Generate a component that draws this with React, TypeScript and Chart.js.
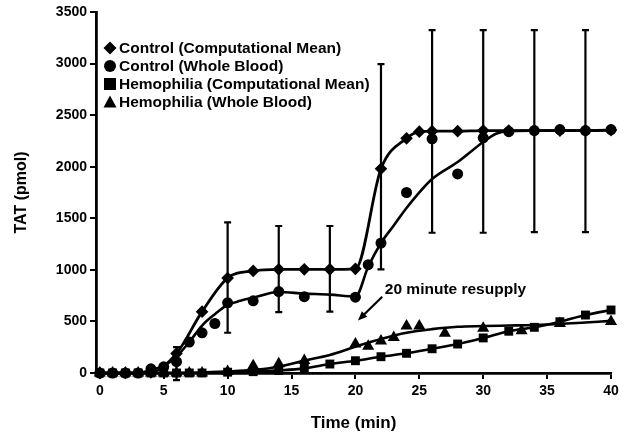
import React, { useEffect, useRef } from 'react';
import { Chart, registerables } from 'chart.js';

Chart.register(...registerables);

// ---------- data ----------
const xTickValues = [0, 5, 10, 15, 20, 25, 30, 35, 40];
const yTickValues = [0, 500, 1000, 1500, 2000, 2500, 3000, 3500];

const legendLabels = [
  'Control (Computational Mean)',
  'Control (Whole Blood)',
  'Hemophilia (Computational Mean)',
  'Hemophilia (Whole Blood)',
];

// Control (Computational Mean) - diamonds
const ctrlCompT = [0, 2, 4, 6, 8, 10, 12, 14, 16, 18, 20, 22, 24, 25, 26, 28, 30, 32, 34, 36, 38, 40];
const ctrlCompV = [0, 0, 5, 190, 595, 920, 990, 1005, 1005, 1005, 1010, 1980, 2275, 2340, 2345, 2345, 2350, 2350, 2350, 2350, 2350, 2355];

// error bars on the computational mean
const errT = [6, 10, 14, 18, 22, 26, 30, 34, 38];
const errUpper = [250, 1460, 1425, 1425, 2995, 3325, 3325, 3325, 3325];
const errLower = [-70, 390, 590, 595, 1005, 1360, 1360, 1365, 1365];

// Control (Whole Blood) - circles
const ctrlWBT = [0, 1, 2, 3, 4, 5, 6, 7, 8, 9, 10, 12, 14, 16, 20, 21, 22, 24, 26, 28, 30, 32, 34, 36, 38, 40];
const ctrlWBV = [0, 0, 0, 0, 40, 60, 110, 300, 390, 480, 680, 700, 790, 740, 735, 1050, 1260, 1750, 2270, 1930, 2280, 2340, 2350, 2360, 2350, 2360];

// Control (Whole Blood) fitted curve
const ctrlFitT = [0, 3, 4, 5, 6, 7, 8, 9, 10, 11, 12, 14, 16, 18, 20, 21, 22, 23, 24, 26, 28, 30, 31, 32, 34, 40];
const ctrlFitV = [0, 0, 30, 70, 160, 300, 460, 570, 660, 700, 730, 785, 770, 760, 740, 1030, 1260, 1430, 1600, 1880, 2045, 2240, 2320, 2345, 2350, 2355];

// Hemophilia (Computational Mean) - squares
const hemoCompT = [0, 1, 2, 3, 4, 5, 6, 7, 8, 10, 12, 14, 16, 18, 20, 22, 24, 26, 28, 30, 32, 34, 36, 38, 40];
const hemoCompV = [0, 0, 0, 0, 0, 0, 0, 0, 0, 8, 13, 25, 45, 87, 119, 158, 191, 235, 281, 340, 405, 443, 497, 562, 611];

// Hemophilia (Whole Blood) - triangles
const hemoWBT = [0, 1, 2, 3, 4, 5, 6, 7, 8, 10, 12, 14, 16, 20, 21, 22, 23, 24, 25, 27, 30, 33, 36, 40];
const hemoWBV = [0, 0, 0, 0, 0, 0, 0, 0, 0, 15, 70, 90, 120, 280, 260, 310, 345, 456, 456, 385, 433, 410, 480, 500];

// Hemophilia (Whole Blood) fitted curve
const hemoFitT = [0, 8, 10, 12, 14, 16, 18, 20, 22, 24, 26, 28, 30, 32, 34, 36, 38, 40];
const hemoFitV = [0, 5, 15, 30, 61, 120, 175, 255, 330, 390, 425, 448, 455, 460, 465, 475, 490, 505];

// annotation (data coordinates)
const annotationText = '20 minute resupply';
const annotationAt = { x: 22.3, y: 805 };
const arrowFrom = { x: 22.1, y: 740 };
const arrowTo = { x: 20.2, y: 510 };

// ---------- helpers ----------
const FONT = '"Liberation Sans", Arial, Helvetica, sans-serif';
const zip = (t: number[], v: number[]) => t.map((x, i) => ({ x, y: v[i] }));

function drawMarker(ctx: CanvasRenderingContext2D, kind: string, x: number, y: number) {
  ctx.beginPath();
  if (kind === 'diamond') {
    const r = 6.5;
    ctx.moveTo(x, y - r); ctx.lineTo(x + r, y); ctx.lineTo(x, y + r); ctx.lineTo(x - r, y); ctx.closePath();
  } else if (kind === 'circle') {
    ctx.arc(x, y, 6, 0, Math.PI * 2);
  } else if (kind === 'square') {
    ctx.rect(x - 6, y - 6, 12, 12);
  } else {
    ctx.moveTo(x, y - 6.5); ctx.lineTo(x + 6.5, y + 5.5); ctx.lineTo(x - 6.5, y + 5.5); ctx.closePath();
  }
  ctx.fill();
}

const errorBarPlugin = {
  id: 'errorBars',
  afterDatasetsDraw(chart: any) {
    const { ctx, scales } = chart;
    const xs = scales.x, ys = scales.y;
    ctx.save();
    ctx.strokeStyle = '#000';
    ctx.lineWidth = 2.2;
    errT.forEach((t, i) => {
      const px = xs.getPixelForValue(t);
      const top = ys.getPixelForValue(errUpper[i]);
      const bot = ys.getPixelForValue(errLower[i]);
      ctx.beginPath();
      ctx.moveTo(px, top); ctx.lineTo(px, bot);
      ctx.moveTo(px - 3.5, top); ctx.lineTo(px + 3.5, top);
      ctx.moveTo(px - 3.5, bot); ctx.lineTo(px + 3.5, bot);
      ctx.stroke();
    });
    ctx.restore();
  },
};

const overlayPlugin = {
  id: 'overlay',
  afterDraw(chart: any) {
    const { ctx, chartArea, scales } = chart;
    const xs = scales.x, ys = scales.y;
    ctx.save();
    ctx.fillStyle = '#000';
    // legend
    const kinds = ['diamond', 'circle', 'square', 'triangle'];
    ctx.font = `bold 15.5px ${FONT}`;
    ctx.textBaseline = 'middle';
    ctx.textAlign = 'left';
    legendLabels.forEach((label, i) => {
      const y = chartArea.top + 36 + i * 18;
      drawMarker(ctx, kinds[i], chartArea.left + 14, y);
      ctx.fillText(label, chartArea.left + 23, y + 1);
    });
    // annotation text
    ctx.fillText(annotationText, xs.getPixelForValue(annotationAt.x), ys.getPixelForValue(annotationAt.y));
    // arrow
    const x1 = xs.getPixelForValue(arrowFrom.x), y1 = ys.getPixelForValue(arrowFrom.y);
    const x2 = xs.getPixelForValue(arrowTo.x), y2 = ys.getPixelForValue(arrowTo.y);
    const ang = Math.atan2(y2 - y1, x2 - x1);
    ctx.strokeStyle = '#000';
    ctx.lineWidth = 2.2;
    ctx.beginPath();
    ctx.moveTo(x1, y1);
    ctx.lineTo(x2 - 6 * Math.cos(ang), y2 - 6 * Math.sin(ang));
    ctx.stroke();
    ctx.beginPath();
    ctx.moveTo(x2, y2);
    ctx.lineTo(x2 - 10 * Math.cos(ang - 0.4), y2 - 10 * Math.sin(ang - 0.4));
    ctx.lineTo(x2 - 10 * Math.cos(ang + 0.4), y2 - 10 * Math.sin(ang + 0.4));
    ctx.closePath();
    ctx.fill();
    ctx.restore();
  },
};

export default function App() {
  const ref = useRef<HTMLCanvasElement | null>(null);

  useEffect(() => {
    if (!ref.current) return;
    Chart.defaults.color = '#000';
    const base = { borderColor: '#000', backgroundColor: '#000', pointBorderColor: '#000', pointBackgroundColor: '#000', clip: false as any };
    const chart = new Chart(ref.current, {
      type: 'scatter',
      data: {
        datasets: [
          { ...base, label: legendLabels[0], data: zip(ctrlCompT, ctrlCompV), showLine: true, borderWidth: 2.8, cubicInterpolationMode: 'monotone', pointStyle: 'rectRot', pointRadius: 6.3, pointBorderWidth: 0 },
          { ...base, label: legendLabels[1], data: zip(ctrlWBT, ctrlWBV), showLine: false, pointStyle: 'circle', pointRadius: 5.5, pointBorderWidth: 0 },
          { ...base, label: 'Control fit', data: zip(ctrlFitT, ctrlFitV), showLine: true, borderWidth: 2.6, cubicInterpolationMode: 'monotone', pointRadius: 0 },
          { ...base, label: legendLabels[2], data: zip(hemoCompT, hemoCompV), showLine: true, borderWidth: 2.6, cubicInterpolationMode: 'monotone', pointStyle: 'rect', pointRadius: 6.3, pointBorderWidth: 0 },
          { ...base, label: legendLabels[3], data: zip(hemoWBT, hemoWBV), showLine: false, pointStyle: 'triangle', pointRadius: 7, pointBorderWidth: 0 },
          { ...base, label: 'Hemophilia fit', data: zip(hemoFitT, hemoFitV), showLine: true, borderWidth: 2.6, cubicInterpolationMode: 'monotone', pointRadius: 0 },
        ],
      },
      options: {
        animation: false,
        responsive: true,
        maintainAspectRatio: false,
        layout: { padding: { left: 0, right: 13, top: 12, bottom: 0 } },
        plugins: { legend: { display: false }, tooltip: { enabled: false } },
        scales: {
          x: {
            type: 'linear',
            min: -0.3,
            max: 40,
            afterBuildTicks: (s: any) => { s.ticks = xTickValues.map((v) => ({ value: v })); },
            afterFit: (s: any) => { s.height = 66; },
            grid: { display: true, drawOnChartArea: false, drawTicks: true, tickLength: 6, color: '#000', lineWidth: 2 },
            border: { display: true, color: '#000', width: 2.8 },
            ticks: { font: { family: FONT, size: 14, weight: 'bold' }, color: '#000', padding: 4, maxRotation: 0, callback: (v: any) => String(v) },
            title: { display: true, text: 'Time (min)', font: { family: FONT, size: 17, weight: 'bold' }, color: '#000', padding: { top: 0, bottom: 5 } },
          },
          y: {
            type: 'linear',
            min: 0,
            max: 3500,
            afterBuildTicks: (s: any) => { s.ticks = yTickValues.map((v) => ({ value: v })); },
            afterFit: (s: any) => { s.width = 96; },
            grid: { display: true, drawOnChartArea: false, drawTicks: true, tickLength: 6, color: '#000', lineWidth: 2 },
            border: { display: true, color: '#000', width: 2.8 },
            ticks: { font: { family: FONT, size: 14, weight: 'bold' }, color: '#000', padding: 3, callback: (v: any) => String(v) },
            title: { display: true, text: 'TAT (pmol)', font: { family: FONT, size: 16, weight: 'bold' }, color: '#000', padding: { top: 12, bottom: 0 } },
          },
        },
      } as any,
      plugins: [errorBarPlugin, overlayPlugin],
    });
    return () => chart.destroy();
  }, []);

  return (
    <div style={{ position: 'fixed', left: 0, top: 0, width: 624, height: 439, background: '#fff' }}>
      <canvas ref={ref} />
    </div>
  );
}
